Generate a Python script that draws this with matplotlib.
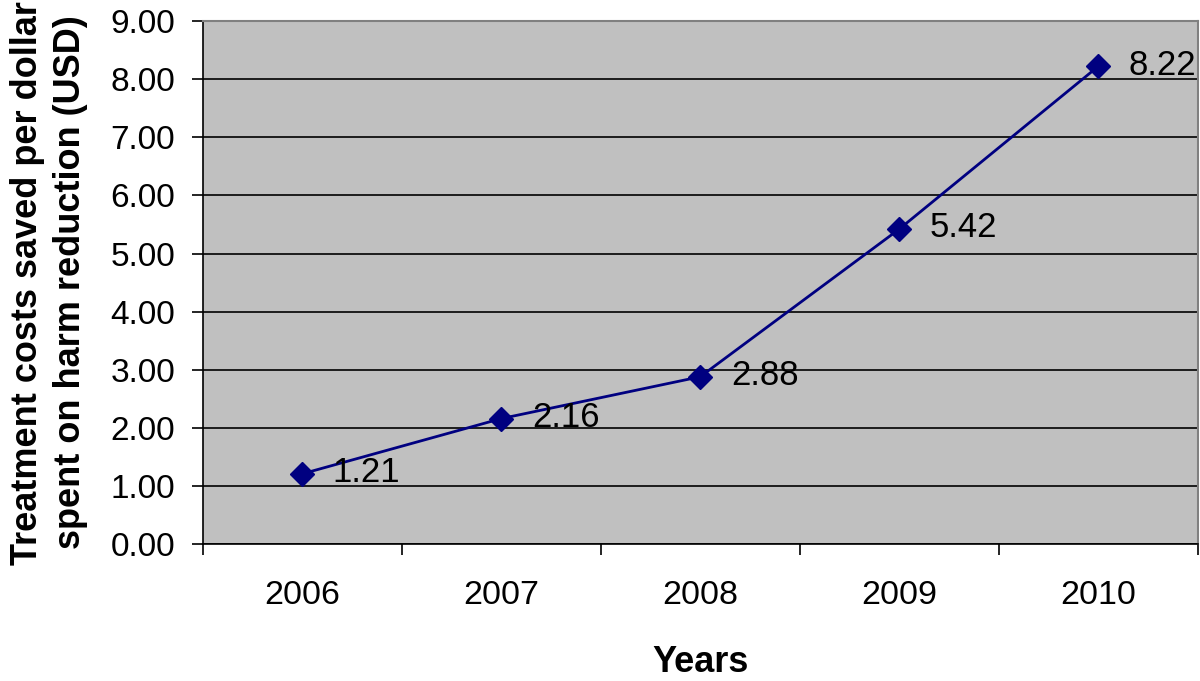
import matplotlib
matplotlib.use("Agg")
import matplotlib.pyplot as plt

years = ["2006", "2007", "2008", "2009", "2010"]
savings = [1.21, 2.16, 2.88, 5.42, 8.22]

plt.rcParams["font.family"] = ["Liberation Sans", "DejaVu Sans"]

fig = plt.figure(figsize=(12, 6.81), dpi=100)
ax = fig.add_axes([0.169, 0.201, 0.829, 0.768])
ax.set_facecolor("#c0c0c0")

x = list(range(len(years)))
ax.plot(x, savings, color="#000080", linewidth=2.0, marker="D",
        markersize=12.5, zorder=3)
for xi, v in zip(x, savings):
    ax.annotate("%.2f" % v, (xi, v), xytext=(22, 1), textcoords="offset points",
                ha="left", va="center", fontsize=25, zorder=4)

ax.set_xlim(-0.5, len(years) - 0.5)
ax.set_ylim(0, 9)
ax.set_yticks([i for i in range(10)])
ax.set_yticklabels(["%.2f" % i for i in range(10)], fontsize=24)
ax.set_xticks(x)
ax.set_xticklabels(years, fontsize=24.5)
ax.set_xticks([i - 0.5 for i in range(len(years) + 1)], minor=True)
ax.tick_params(axis="x", which="major", length=0, pad=26)
ax.tick_params(axis="x", which="minor", length=8, width=1.2, direction="out")
ax.tick_params(axis="y", length=8, width=1.2, direction="out", pad=12)

ax.grid(axis="y", color="black", linewidth=1.2, zorder=1)
ax.set_axisbelow(True)

for side in ["top", "right"]:
    ax.spines[side].set_color("#808080")
    ax.spines[side].set_linewidth(1.5)
for side in ["left", "bottom"]:
    ax.spines[side].set_color("black")
    ax.spines[side].set_linewidth(1.2)

ax.set_xlabel("Years", fontsize=26, fontweight="bold", labelpad=24)
ax.set_ylabel("Treatment costs saved per dollar\nspent on harm reduction (USD)",
              fontsize=26, fontweight="bold", labelpad=16, linespacing=1.3)

fig.savefig("out.png", dpi=100)
